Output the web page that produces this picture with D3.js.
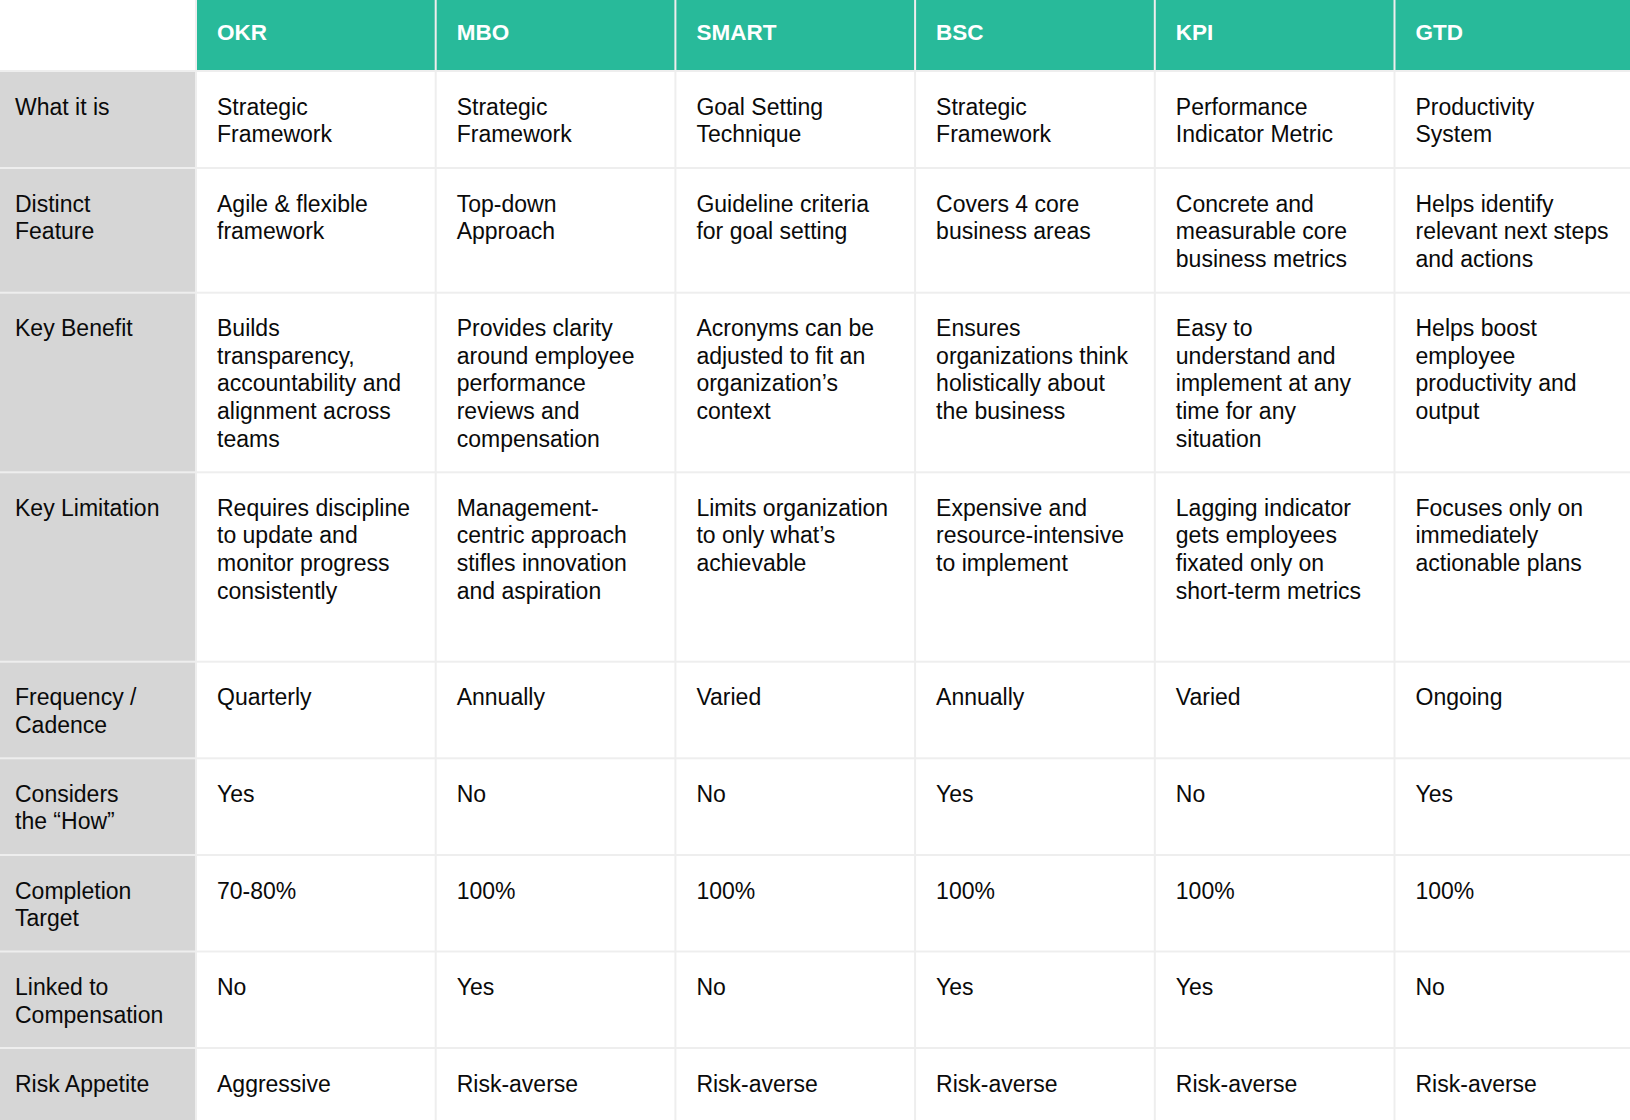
<!DOCTYPE html>
<html>
<head>
<meta charset="utf-8">
<script src="https://cdn.jsdelivr.net/npm/d3@7"></script>
<style>
  html, body { margin: 0; padding: 0; background: #fff; overflow: hidden; }
</style>
</head>
<body>
<div id="chart"></div>
<script>
const frameworks = ["OKR", "MBO", "SMART", "BSC", "KPI", "GTD"];

const rowLabels = [
    "What it is",
    "Distinct\nFeature",
    "Key Benefit",
    "Key Limitation",
    "Frequency /\nCadence",
    "Considers\nthe \u201cHow\u201d",
    "Completion\nTarget",
    "Linked to\nCompensation",
    "Risk Appetite"
];

// one array per framework, same order as rowLabels
const okr = [
    "Strategic\nFramework",
    "Agile & flexible\nframework",
    "Builds\ntransparency,\naccountability and\nalignment across\nteams",
    "Requires discipline\nto update and\nmonitor progress\nconsistently",
    "Quarterly", "Yes", "70-80%", "No", "Aggressive"
];
const mbo = [
    "Strategic\nFramework",
    "Top-down\nApproach",
    "Provides clarity\naround employee\nperformance\nreviews and\ncompensation",
    "Management-\ncentric approach\nstifles innovation\nand aspiration",
    "Annually", "No", "100%", "Yes", "Risk-averse"
];
const smart = [
    "Goal Setting\nTechnique",
    "Guideline criteria\nfor goal setting",
    "Acronyms can be\nadjusted to fit an\norganization\u2019s\ncontext",
    "Limits organization\nto only what\u2019s\nachievable",
    "Varied", "No", "100%", "No", "Risk-averse"
];
const bsc = [
    "Strategic\nFramework",
    "Covers 4 core\nbusiness areas",
    "Ensures\norganizations think\nholistically about\nthe business",
    "Expensive and\nresource-intensive\nto implement",
    "Annually", "Yes", "100%", "Yes", "Risk-averse"
];
const kpi = [
    "Performance\nIndicator Metric",
    "Concrete and\nmeasurable core\nbusiness metrics",
    "Easy to\nunderstand and\nimplement at any\ntime for any\nsituation",
    "Lagging indicator\ngets employees\nfixated only on\nshort-term metrics",
    "Varied", "No", "100%", "Yes", "Risk-averse"
];
const gtd = [
    "Productivity\nSystem",
    "Helps identify\nrelevant next steps\nand actions",
    "Helps boost\nemployee\nproductivity and\noutput",
    "Focuses only on\nimmediately\nactionable plans",
    "Ongoing", "Yes", "100%", "No", "Risk-averse"
];

const columns = [okr, mbo, smart, bsc, kpi, gtd];

// layout
const width = 1630, height = 1120;
const headerH = 71;
const rowHeights = [97, 124.7, 179.6, 189.4, 96.6, 96.7, 96.5, 96.5, 96.5];
const labelW = 196;
const colW = 239.7;
const gap = 1;            // half of the 2px grid line
const padX = 21, baseY = 43.5, lineH = 27.6;
const green = "#28ba9a", grey = "#d6d6d6", gridColor = "#eeeeee";

const rowTops = [];
rowHeights.reduce((acc, h) => { rowTops.push(acc); return acc + h; }, headerH);

const x = d3.scaleBand()
    .domain(frameworks)
    .range([labelW, labelW + colW * frameworks.length])
    .paddingInner(0);

const svg = d3.select("#chart").append("svg")
    .attr("width", width)
    .attr("height", height)
    .style("font-family", "'Liberation Sans', Arial, Helvetica, sans-serif");

// grid background shows through as the lines between cells
svg.append("rect")
    .attr("x", 0).attr("y", 0)
    .attr("width", width).attr("height", height)
    .attr("fill", gridColor);

// top-left blank corner
svg.append("rect")
    .attr("x", 0).attr("y", 0)
    .attr("width", labelW - gap).attr("height", headerH - gap)
    .attr("fill", "#fff");

// header
const head = svg.append("g").selectAll("g")
    .data(frameworks).join("g")
    .attr("transform", d => `translate(${x(d)},0)`);

head.append("rect")
    .attr("x", gap).attr("y", 0)
    .attr("width", x.bandwidth() - 2 * gap).attr("height", headerH - gap)
    .attr("fill", green);

head.append("text")
    .attr("x", padX).attr("y", 40)
    .attr("fill", "#fff")
    .style("font-size", "22.5px")
    .style("font-weight", "700")
    .text(d => d);

function addLines(sel, str) {
    sel.selectAll("tspan")
        .data(str.split("\n")).join("tspan")
        .attr("x", sel.attr("x"))
        .attr("dy", (d, i) => i === 0 ? 0 : lineH)
        .text(d => d);
}

// body rows
const rows = svg.append("g").selectAll("g")
    .data(rowLabels).join("g")
    .attr("transform", (d, i) => `translate(0,${rowTops[i]})`);

rows.append("rect")
    .attr("x", 0).attr("y", gap)
    .attr("width", labelW - gap)
    .attr("height", (d, i) => rowHeights[i] - 2 * gap)
    .attr("fill", grey);

rows.append("text")
    .attr("x", 15).attr("y", baseY)
    .attr("fill", "#0a0a0a")
    .style("font-size", "23px")
    .each(function(d) { addLines(d3.select(this), d); });

rows.each(function(label, ri) {
    const cells = d3.select(this).selectAll("g.cell")
        .data(frameworks.map((f, ci) => ({ f, text: columns[ci][ri] })))
        .join("g").attr("class", "cell")
        .attr("transform", d => `translate(${x(d.f)},0)`);

    cells.append("rect")
        .attr("x", gap).attr("y", gap)
        .attr("width", x.bandwidth() - 2 * gap)
        .attr("height", rowHeights[ri] - 2 * gap)
        .attr("fill", "#fff");

    cells.append("text")
        .attr("x", padX).attr("y", baseY)
        .attr("fill", "#0a0a0a")
        .style("font-size", "23px")
        .each(function(d) { addLines(d3.select(this), d.text); });
});
</script>
</body>
</html>
